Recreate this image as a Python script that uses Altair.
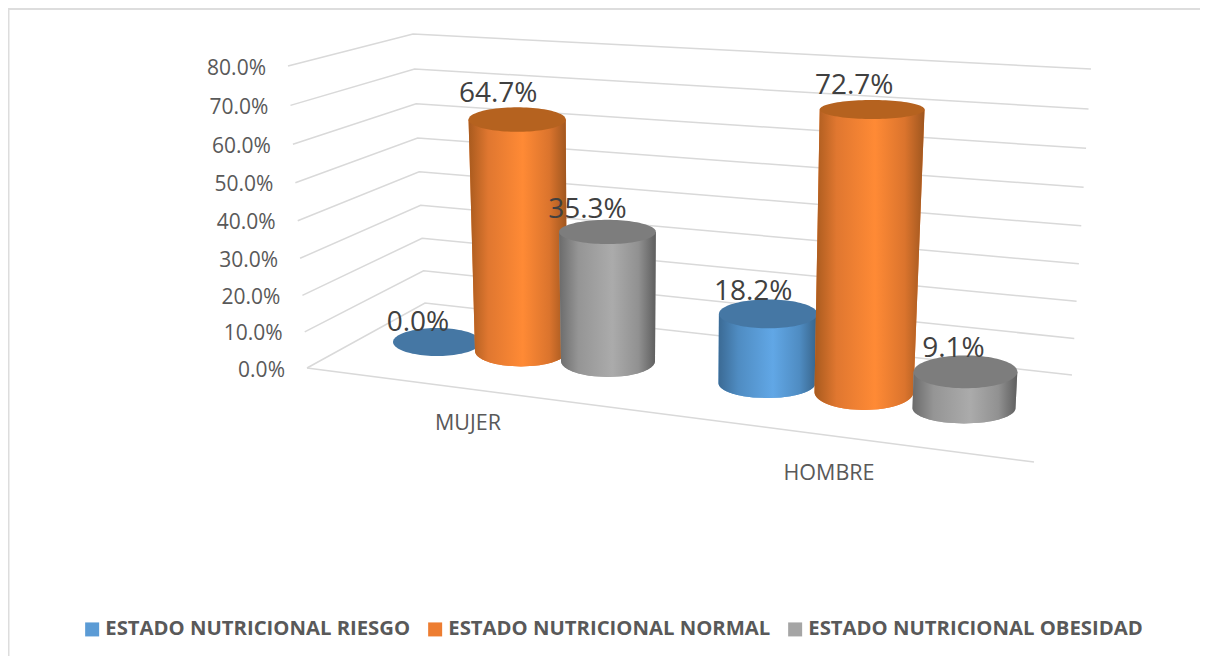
import math
import altair as alt
import pandas as pd

# ---- data ----
categories = ["MUJER", "HOMBRE"]
series = ["ESTADO NUTRICIONAL RIESGO", "ESTADO NUTRICIONAL NORMAL", "ESTADO NUTRICIONAL OBESIDAD"]
riesgo = [0.0, 18.2]
normal = [64.7, 72.7]
obesidad = [35.3, 9.1]
ticks = [0, 10, 20, 30, 40, 50, 60, 70, 80]

# ---- look ----
SOLID = ["#5B9BD5", "#ED7D31", "#A5A5A5"]
TOPS = ["#4577A4", "#B5621F", "#7D7D7D"]
SIDE_STOPS = [
    ["#3B6A94", "#4F8CC2", "#61A7E6", "#4F8CC2", "#376389"],
    ["#A85A1E", "#E07730", "#FF8A35", "#DB742D", "#9E561F"],
    ["#6B6B6B", "#959595", "#ABABAB", "#919191", "#5E5E5E"],
]
GRID = "#D9D9D9"
FONT = "Open Sans"

# ---- projection of the 3-D box on to the page (pixels) ----
FL0, BL0, BR0, FR0 = (307, 368), (425, 303), (1072, 375), (1034, 462)
FL80, BL80, BR80 = (288, 66), (413, 34), (1091, 69)
SLOT_BASE = [(437, 342), (521, 351), (608, 361), (767, 383), (864, 392), (964, 408)]
SLOT_RX = [44, 46, 47, 48.5, 49.5, 51.5]
SLOT_RY = [14, 15.5, 16, 15, 18, 15.5]
SLOT_RY_TAPER = [0, 0.05, 0.11, 0.03, 0.117, -0.1]
LABEL_DX = [-19, -19, -20, -15, -18, -12]
CAT_U = [0.2215, 0.718]


def lift(p0, p80, v):
    t = v / 80
    t = t - 0.05 * t * (1 - t)
    return p0[0] + (p80[0] - p0[0]) * t, p0[1] + (p80[1] - p0[1]) * t


def bar_geometry(slot, v):
    bx, by = SLOT_BASE[slot]
    rate = 3.5 + 0.0009 * (bx - 435)
    return {
        "bx": bx,
        "by": by,
        "tx": bx + (bx - 640) * 0.0005 * v,
        "ty": by - rate * v,
        "rb": SLOT_RX[slot],
        "rt": SLOT_RX[slot] + 0.04 * v,
        "yb": SLOT_RY[slot],
        "yt": SLOT_RY[slot] - SLOT_RY_TAPER[slot] * v,
    }


def body_frame(g):
    """Left/right edge of the side of a cylinder at each page row."""
    rows = []
    n = 24
    for i in range(n + 1):
        t = i / n
        rows.append(
            dict(
                y=g["ty"] + (g["by"] - g["ty"]) * t,
                x=g["tx"] + (g["bx"] - g["tx"]) * t - (g["rt"] + (g["rb"] - g["rt"]) * t),
                xe=g["tx"] + (g["bx"] - g["tx"]) * t + (g["rt"] + (g["rb"] - g["rt"]) * t),
            )
        )
    for i in range(1, n + 1):
        s = i / n
        half = g["rb"] * math.sqrt(max(0, 1 - s * s))
        rows.append(dict(y=g["by"] + g["yb"] * s, x=g["bx"] - half, xe=g["bx"] + half))
    return pd.DataFrame(rows)


def cap_frame(g):
    rows = []
    n = 48
    for i in range(n + 1):
        a = math.pi * i / n
        px = g["tx"] - g["rt"] * math.cos(a)
        dy = g["yt"] * math.sin(a)
        rows.append(dict(x=px, y=g["ty"] - dy, y2=g["ty"] + dy))
    return pd.DataFrame(rows)


X = alt.Scale(domain=[8, 1200], range=[0, 1192], nice=False, zero=False)
Y = alt.Scale(domain=[8, 656], range=[0, 648], nice=False, zero=False)
ax = dict(axis=None, scale=X)
ay = dict(axis=None, scale=Y)
colour = alt.Color(
    "serie:N",
    scale=alt.Scale(domain=series, range=SOLID),
    legend=alt.Legend(
        title=None,
        orient="none",
        legendX=74,
        legendY=611,
        direction="horizontal",
        columns=3,
        symbolType="square",
        symbolSize=196,
        symbolStrokeWidth=0,
        symbolOpacity=1,
        labelFont=FONT,
        labelFontSize=20.3,
        labelFontWeight="bold",
        labelColor="#595959",
        labelOffset=3,
        labelLimit=400,
        columnPadding=14,
        rowPadding=0,
    ),
)

layers = []

# frame
frame_top = pd.DataFrame({"x": [8, 1200], "y": [9, 9], "g": ["t", "t"]})
frame_left = pd.DataFrame({"x": [8.5, 8.5], "y": [9, 656], "g": ["l", "l"]})
for fr in (frame_top, frame_left):
    layers.append(
        alt.Chart(fr).mark_line(color="#DDDDDD", strokeWidth=2).encode(x=alt.X("x:Q", **ax), y=alt.Y("y:Q", **ay))
    )

# walls and floor grid
grid_rows = []
for t in ticks:
    for order, (p0, p80) in enumerate([(FL0, FL80), (BL0, BL80), (BR0, BR80)]):
        px, py = lift(p0, p80, t)
        grid_rows.append(dict(x=px, y=py, level=t, order=order))
grid_rows += [dict(x=FL0[0], y=FL0[1], level=-1, order=0), dict(x=FR0[0], y=FR0[1], level=-1, order=1)]
layers.append(
    alt.Chart(pd.DataFrame(grid_rows))
    .mark_line(color=GRID, strokeWidth=1.5)
    .encode(x=alt.X("x:Q", **ax), y=alt.Y("y:Q", **ay), detail="level:N", order="order:Q")
)

# axis labels
tick_rows = []
for t in ticks:
    px, py = lift(FL0, FL80, t)
    tick_rows.append(dict(x=px - 22, y=py + 2.5, label=f"{t:.1f}%"))
layers.append(
    alt.Chart(pd.DataFrame(tick_rows))
    .mark_text(align="right", baseline="middle", font=FONT, fontSize=21, color="#595959")
    .encode(x=alt.X("x:Q", **ax), y=alt.Y("y:Q", **ay), text="label:N")
)

# category labels
cat_rows = []
for name, u in zip(categories, CAT_U):
    cat_rows.append(
        dict(x=FL0[0] + (FR0[0] - FL0[0]) * u, y=FL0[1] + (FR0[1] - FL0[1]) * u + 33 + 8 * u, label=name)
    )
layers.append(
    alt.Chart(pd.DataFrame(cat_rows))
    .mark_text(align="center", baseline="middle", font=FONT, fontSize=21.5, color="#595959")
    .encode(x=alt.X("x:Q", **ax), y=alt.Y("y:Q", **ay), text="label:N")
)

# cylinders, left to right
value_rows = []
slot = 0
for c in range(len(categories)):
    for s, values in enumerate([riesgo, normal, obesidad]):
        v = values[c]
        g = bar_geometry(slot, v)
        value_rows.append(dict(x=g["tx"] + LABEL_DX[slot], y=g["ty"] - g["yt"] - 5.5 - 0.12 * v, label=f"{v:.1f}%"))
        slot += 1
        if v > 0:
            body = body_frame(g).assign(serie=series[s])
            enc = dict(y=alt.Y("y:Q", **ay), x=alt.X("x:Q", **ax), x2=alt.X2("xe:Q"))
            layers.append(
                alt.Chart(body).mark_area(orient="horizontal", interpolate="linear").encode(color=colour, **enc)
            )
            grad = alt.Gradient(
                gradient="linear",
                x1=0,
                x2=1,
                y1=0,
                y2=0,
                stops=[
                    alt.GradientStop(offset=o, color=col)
                    for o, col in zip([0, 0.2, 0.55, 0.82, 1], SIDE_STOPS[s])
                ],
            )
            layers.append(alt.Chart(body).mark_area(orient="horizontal", color=grad).encode(**enc))
        layers.append(
            alt.Chart(cap_frame(g))
            .mark_area(color=TOPS[s])
            .encode(x=alt.X("x:Q", **ax), y=alt.Y("y:Q", **ay), y2="y2:Q")
        )

# value labels
layers.append(
    alt.Chart(pd.DataFrame(value_rows))
    .mark_text(align="center", baseline="middle", font=FONT, fontSize=28, color="#404040")
    .encode(x=alt.X("x:Q", **ax), y=alt.Y("y:Q", **ay), text="label:N")
)

chart = (
    alt.layer(*layers)
    .properties(width=1192, height=648, padding=0, autosize=alt.AutoSizeParams(type="none"), background="white")
    .configure_view(stroke=None)
)
chart.save("out.html", embed_options={"renderer": "svg", "actions": False})
